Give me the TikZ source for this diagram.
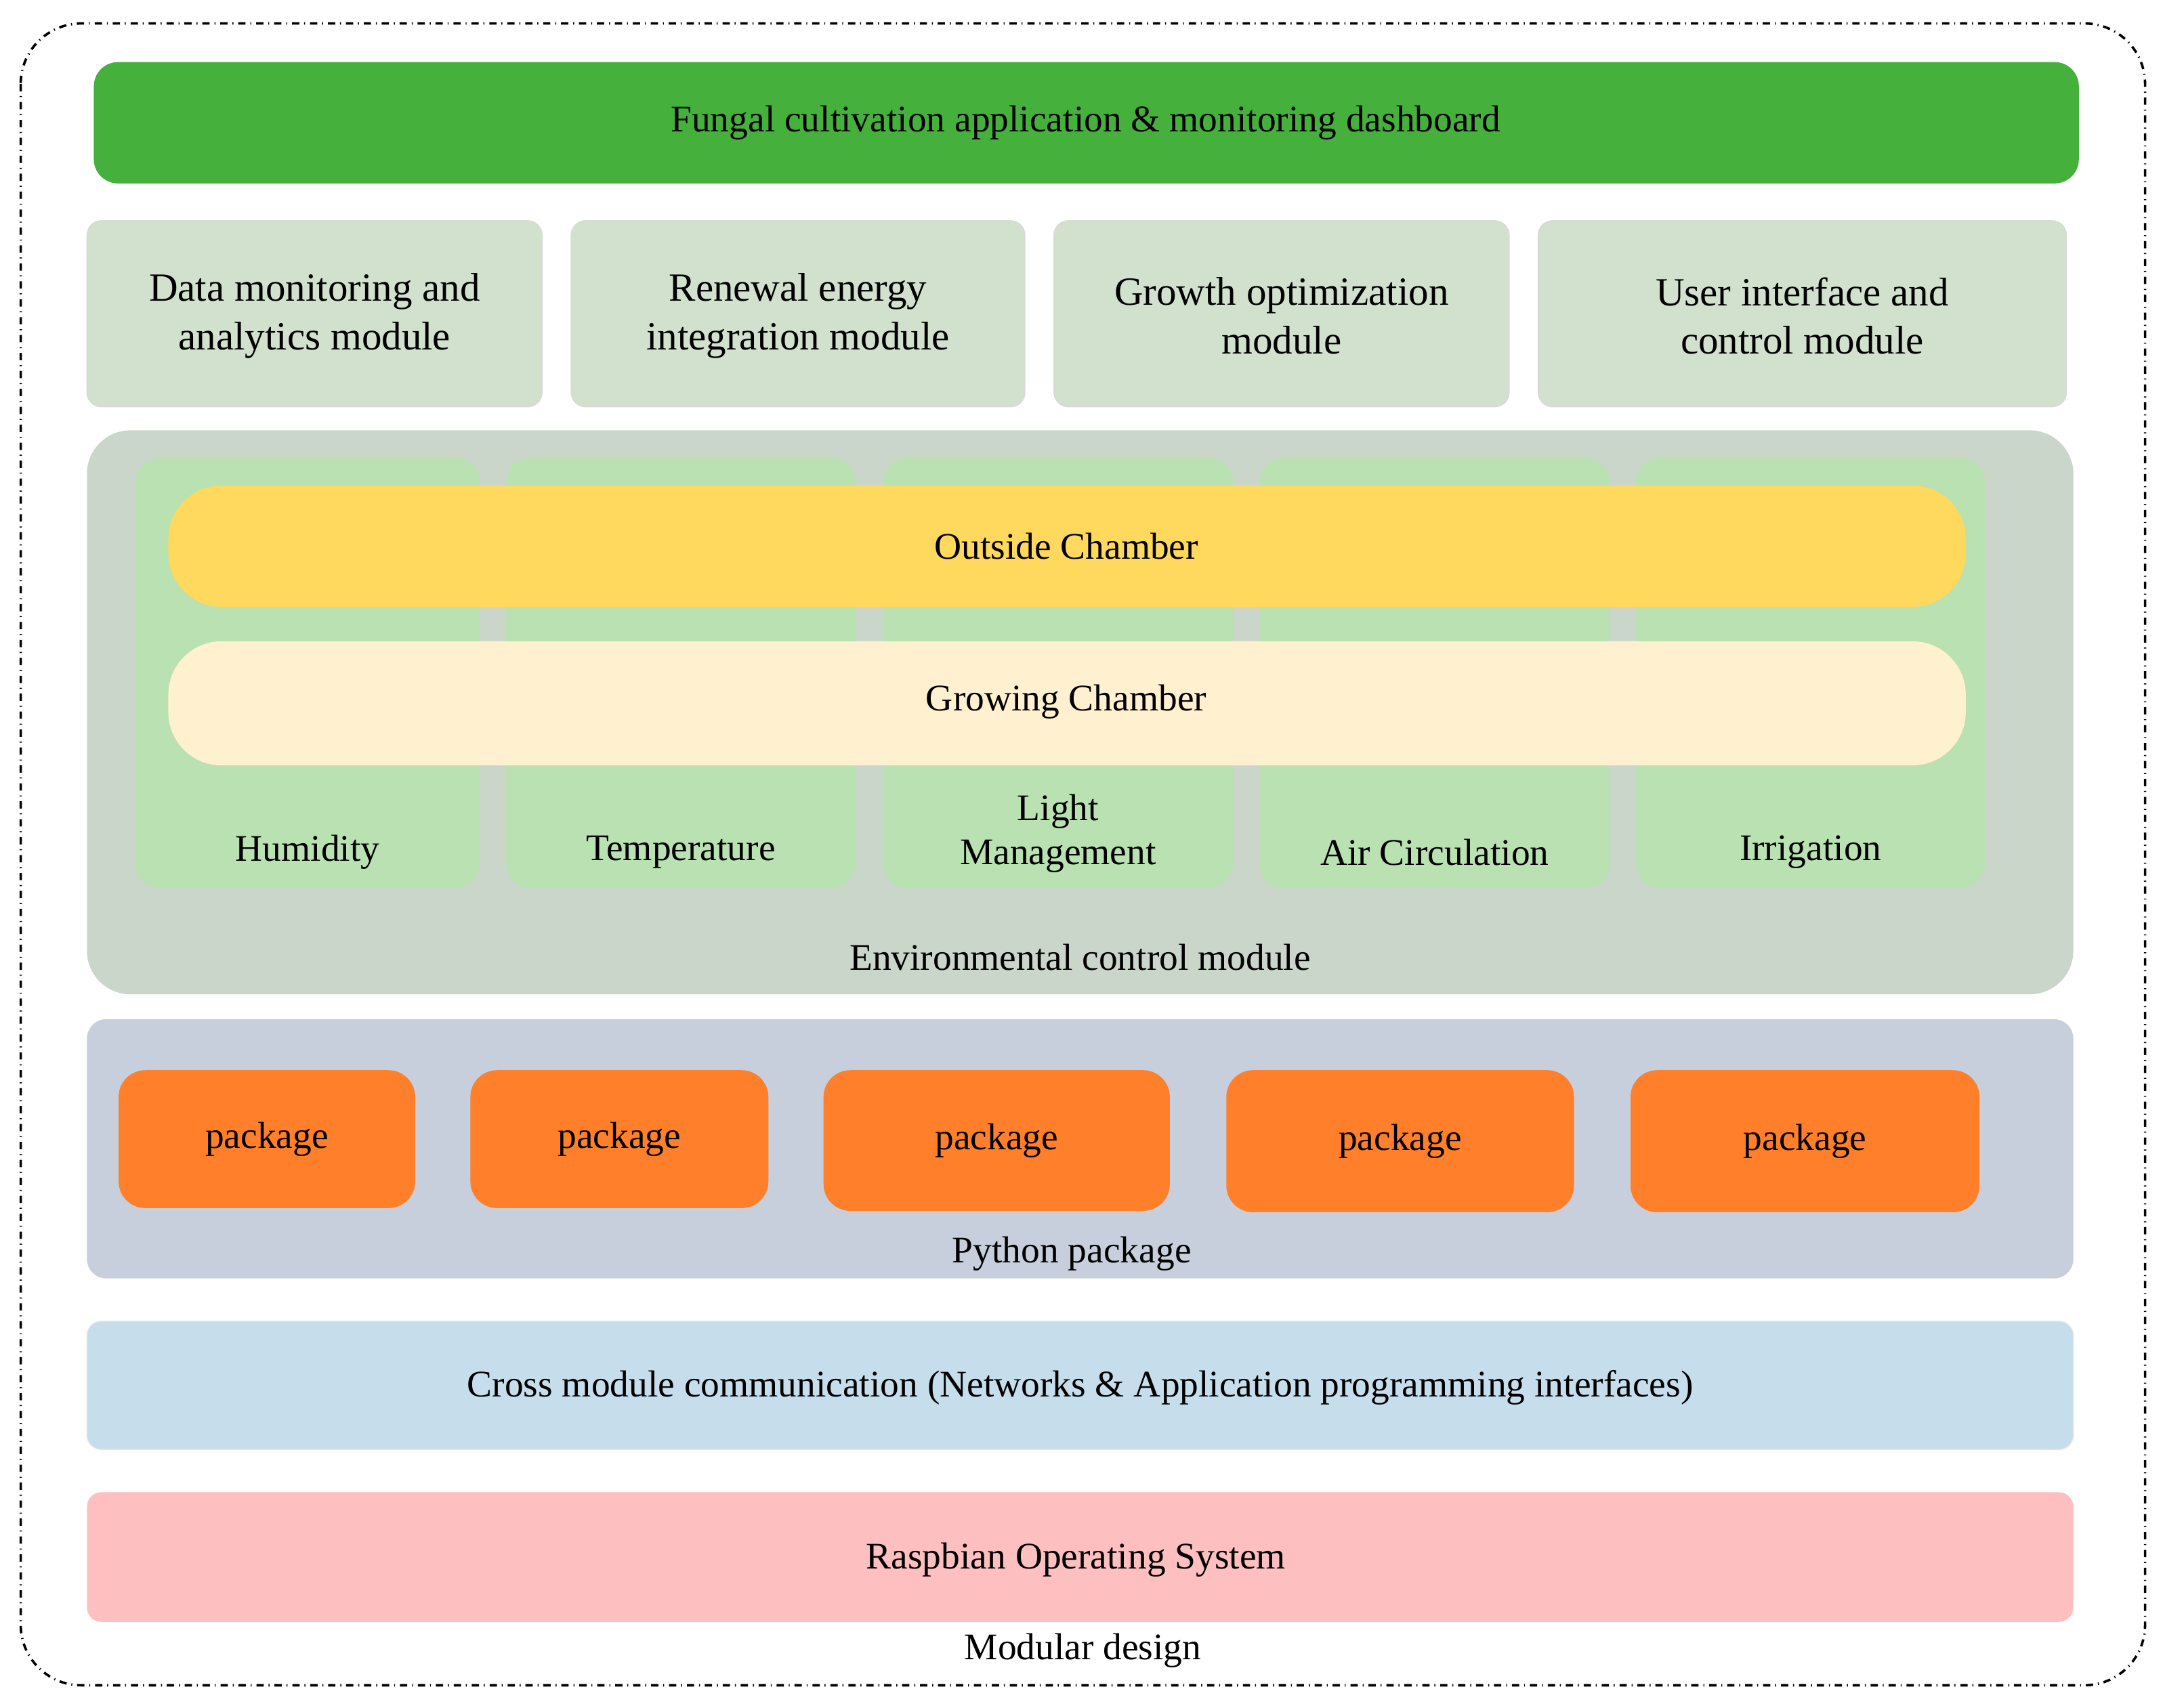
\documentclass[tikz,border=0pt]{standalone}
\usepackage{fontspec}
\setmainfont{Liberation Serif}
\begin{document}
\begin{tikzpicture}[x=0.02cm,y=-0.02cm,
  box/.style={rounded corners=9pt,draw=#1!80!black!40,line width=0.3pt},
  txt/.style={font=\fontsize{15.5}{18}\selectfont,align=center},
  big/.style={font=\fontsize{16.5}{20}\selectfont,align=center},
  pkg/.style={fill=pkgc,rounded corners=11pt}]
\definecolor{topg}{HTML}{45B03C}
\definecolor{modc}{HTML}{D2E1CE}
\definecolor{envc}{HTML}{CBD6CA}
\definecolor{colc}{HTML}{B9E1B1}
\definecolor{outc}{HTML}{FFD85E}
\definecolor{grwc}{HTML}{FFF0CF}
\definecolor{pyc}{HTML}{C6CFDB}
\definecolor{pkgc}{HTML}{FF7F2A}
\definecolor{crc}{HTML}{C6DDEC}
\definecolor{osc}{HTML}{FDBFBF}
\useasboundingbox (0,0) rectangle (1568,1238);
\draw[dash dot,line width=1pt,rounded corners=25pt] (15,17) rectangle (1555,1222);
\node[txt] (md) at (785,1197) {Modular design};
\fill[topg,rounded corners=10pt] (68,45) rectangle (1507,133);
\node[txt] (app) at (787,89) {Fungal cultivation application \& monitoring dashboard};
\foreach \a/\b/\t [count=\i] in {63/393/{Data monitoring and\\analytics module},414/743/{Renewal energy\\integration module},764/1094/{Growth optimization\\module},1115/1498/{User interface and\\control module}}{
  \filldraw[fill=modc,draw=black!15,rounded corners=6pt] (\a,160) rectangle (\b,295);
  \node[big] (m\i) at ({(\a+\b)/2},229) {\t};
}
\fill[envc,rounded corners=18pt] (63,312) rectangle (1503,721);
\node[txt] (env) at (783,694) {Environmental control module};
\foreach \a/\b [count=\i] in {98/348,367/620,640/894,913/1167,1186/1439}{
  \fill[colc,rounded corners=10pt] (\a,332) rectangle (\b,644);
  \coordinate (c\i) at ({(\a+\b)/2},618);
}
\node[txt] (l1) at (c1) {Humidity};
\node[txt] (l2) at (c2) {Temperature};
\node[txt,anchor=base] (l3) at ([yshift=-5pt]c3) {Light\\Management};
\node[txt] (l4) at (c4) {Air Circulation};
\node[txt] (l5) at (c5) {Irrigation};
\fill[outc,rounded corners=22pt] (122,352) rectangle (1425,440);
\node[txt] (oc) at (773,396) {Outside Chamber};
\fill[grwc,rounded corners=22pt] (122,465) rectangle (1425,555);
\node[txt] (gc) at (773,509) {Growing Chamber};
\fill[pyc,rounded corners=8pt] (63,739) rectangle (1503,927);
\node[txt] (py) at (777,909) {Python package};
\foreach \a/\b/\c [count=\i] in {86/301/876,341/557/876,597/848/878,889/1141/879,1182/1435/879}{
  \fill[pkgc,rounded corners=11pt] (\a,776) rectangle (\b,\c);
  \node[txt] (p\i) at ({(\a+\b)/2},{(776+\c)/2}) {package};
}
\filldraw[fill=crc,draw=black!10,rounded corners=6pt] (63,958) rectangle (1503,1051);
\node[txt] (cr) at (783,1006) {Cross module communication (Networks \& Application programming interfaces)};
\fill[osc,rounded corners=6pt] (63,1082) rectangle (1503,1176);
\node[txt] (os) at (780,1131) {Raspbian Operating System};
\end{tikzpicture}
\end{document}
